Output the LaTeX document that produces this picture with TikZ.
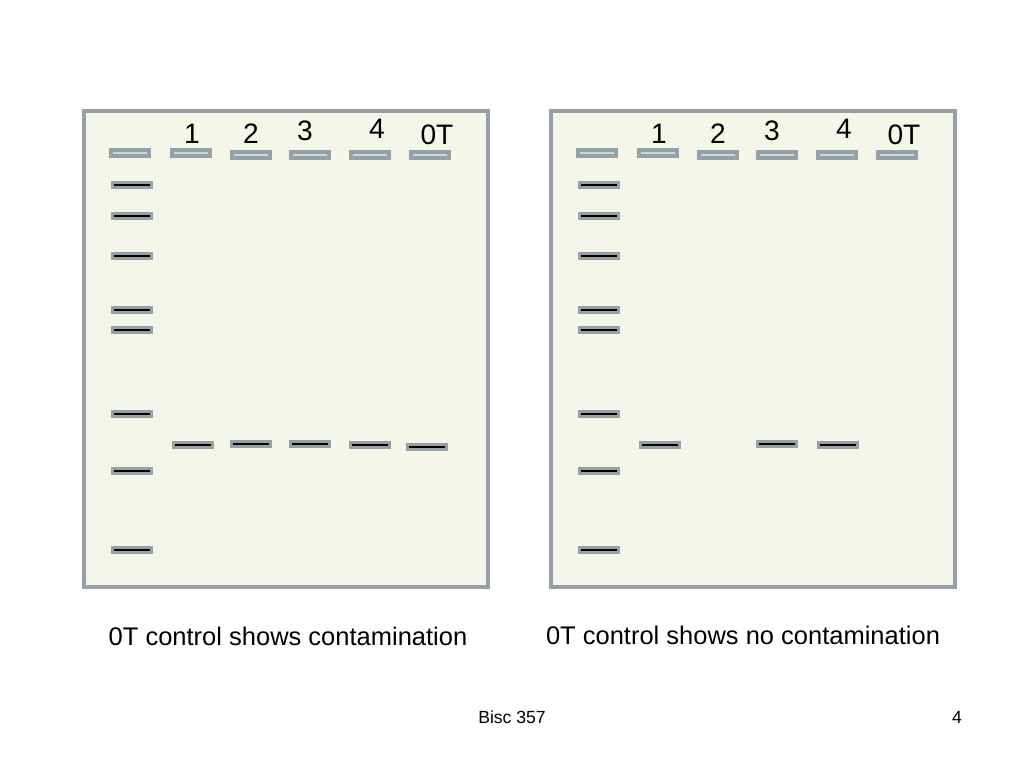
\documentclass[tikz,border=0pt]{standalone}
\usepackage{fontspec}
\setmainfont{Liberation Sans}
\definecolor{gelbg}{RGB}{245,246,234}
\definecolor{gelframe}{RGB}{150,160,165}
\definecolor{wellfill}{RGB}{190,220,228}
\tikzset{
  well/.style={draw=gelframe, fill=wellfill, line width=0.9pt, minimum width=0.38cm, minimum height=0.06cm, inner sep=0pt},
  band/.style={draw=gelframe, fill=black, line width=0.9pt, minimum width=0.39cm, minimum height=0.05cm, inner sep=0pt},
  lanelabel/.style={font=\fontsize{8}{9}\selectfont},
}
\begin{document}
\begin{tikzpicture}[x=0.01cm, y=-0.01cm]
        \useasboundingbox (0,0) rectangle (1024,768);
        % two gels
        \foreach \off/\g in {0/L, 467/R} {
          \draw[gelframe, fill=gelbg, line width=0.9pt] (84+\off,111) rectangle (488+\off,587);
          % wells
          \node[well] (well\g0) at (130+\off,153) {};
          \node[well] (well\g1) at (191+\off,153) {};
          \node[well] (well\g2) at (251+\off,155) {};
          \node[well] (well\g3) at (310+\off,155) {};
          \node[well] (well\g4) at (370+\off,155) {};
          \node[well] (well\g5) at (430+\off,155) {};
          % lane labels
          \node[lanelabel] (lab\g1) at (192+\off,134) {1};
          \node[lanelabel] (lab\g2) at (251+\off,134) {2};
          \node[lanelabel] (lab\g3) at (305+\off,131) {3};
          \node[lanelabel] (lab\g4) at (377+\off,129) {4};
          \node[lanelabel] (lab\g5) at (437+\off,135) {0T};
          % ladder
          \foreach \y [count=\i] in {185,216,256,310,330,414,471,550}
            \node[band] (lad\g\i) at (132+\off,\y) {};
        }
        % samples, left gel
        \node[band] (sL1) at (193,445) {};
        \node[band] (sL2) at (251,444) {};
        \node[band] (sL3) at (310,444) {};
        \node[band] (sL4) at (370,445) {};
        \node[band] (sL5) at (427,447) {};
        % samples, right gel
        \node[band] (sR1) at (660,445) {};
        \node[band] (sR3) at (777,444) {};
        \node[band] (sR4) at (838,445) {};
        % captions
        \node[font=\fontsize{7.25}{8}\selectfont] (capL) at (288,636) {0T control shows contamination};
        \node[font=\fontsize{7.25}{8}\selectfont] (capR) at (743,635) {0T control shows no contamination};
        \node[font=\fontsize{5}{6}\selectfont] (foot) at (512,717) {Bisc 357};
        \node[font=\fontsize{5}{6}\selectfont] (page) at (957,717) {4};
\end{tikzpicture}
\end{document}
